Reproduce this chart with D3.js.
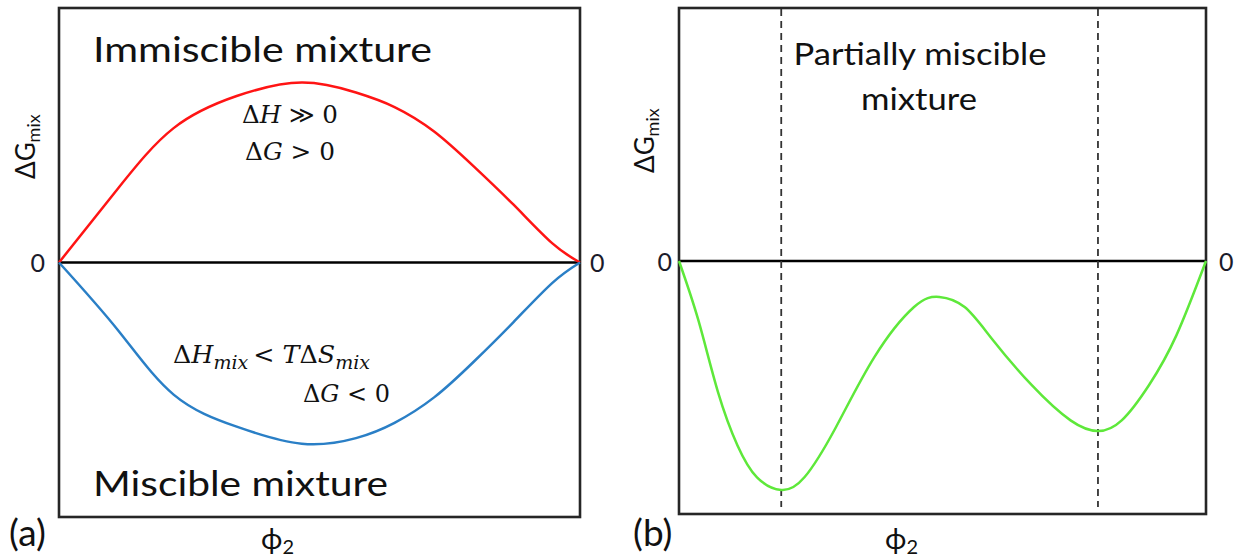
<!DOCTYPE html>
<html>
<head>
<meta charset="utf-8">
<script src="https://cdn.jsdelivr.net/npm/d3@7"></script>
<style>
  body { margin: 0; background: #fff; }
  svg { display: block; }
  .sans { font-family: Lato, "Open Sans", "Noto Sans", sans-serif; fill: #111; }
  .math { font-family: "DejaVu Serif", "Liberation Serif", serif; fill: #111; }
</style>
</head>
<body>
<svg id="chart" width="1234" height="558"></svg>
<script>
// Free energy of mixing ΔGmix (arbitrary units) against volume fraction φ2.
// (a) immiscible (ΔG > 0) and miscible (ΔG < 0) mixtures
const phiImmiscible = [0, 0.114, 0.22, 0.341, 0.466, 0.57, 0.644, 0.72, 0.796, 0.872, 0.947, 1];
const gImmiscible   = [0, 0.293, 0.528, 0.654, 0.707, 0.668, 0.611, 0.515, 0.378, 0.228, 0.075, 0];
const phiMiscible   = [0, 0.114, 0.22, 0.341, 0.466, 0.57, 0.644, 0.72, 0.796, 0.872, 0.947, 1];
const gMiscible     = [0, -0.268, -0.519, -0.645, -0.712, -0.69, -0.63, -0.53, -0.39, -0.235, -0.08, 0];
// (b) partially miscible mixture with two minima
const phiPartial = [0, 0.037, 0.074, 0.111, 0.148, 0.194, 0.238, 0.297, 0.371, 0.446, 0.494, 0.542, 0.594, 0.669, 0.743, 0.795, 0.84, 0.892, 0.944, 1];
const gPartial   = [0, -0.236, -0.518, -0.729, -0.855, -0.905, -0.855, -0.66, -0.379, -0.182, -0.142, -0.182, -0.308, -0.49, -0.63, -0.672, -0.63, -0.49, -0.293, 0];
// compositions of the two minima (binodal points)
const binodalPhi = [0.194, 0.795];
const zeroTick = [0];
const gDomain = [-1, 1];

const svg = d3.select("#chart");

function panel(opts) {
  const x = d3.scaleLinear().domain([0, 1]).range([opts.left, opts.right]);
  const y = d3.scaleLinear().domain(gDomain).range([opts.bottom, opts.top]);
  const g = svg.append("g");

  // zero labels on both sides
  const axL = g.append("g").attr("transform", `translate(${opts.left},0)`)
    .call(d3.axisLeft(y).tickValues(zeroTick).tickSize(0).tickPadding(opts.padL).tickFormat(d3.format("d")));
  const axR = g.append("g").attr("transform", `translate(${opts.right},0)`)
    .call(d3.axisRight(y).tickValues(zeroTick).tickSize(0).tickPadding(opts.padR).tickFormat(d3.format("d")));
  [axL, axR].forEach(a => {
    a.select(".domain").remove();
    a.attr("font-size", 25).attr("font-family", 'Lato, "Open Sans", sans-serif');
    a.selectAll("text").attr("fill", "#1b1b2a").attr("dy", "0.36em");
  });

  // zero line
  g.append("line")
    .attr("x1", x(0)).attr("x2", x(1)).attr("y1", y(0)).attr("y2", y(0))
    .attr("stroke", "#000").attr("stroke-width", 2.6);

  // frame
  g.append("rect")
    .attr("x", opts.left).attr("y", opts.top)
    .attr("width", opts.right - opts.left).attr("height", opts.bottom - opts.top)
    .attr("fill", "none").attr("stroke", "#262626").attr("stroke-width", 2.6);

  // axis titles
  const yl = g.append("text").attr("class", "sans")
    .attr("transform", `translate(${opts.yLabelX},${opts.yLabelY}) rotate(-90)`);
  yl.append("tspan").attr("font-size", 26).text("ΔG");
  yl.append("tspan").attr("font-size", 18).attr("dy", 5).text("mix");

  const xl = g.append("text").attr("class", "sans").attr("x", opts.xLabelX).attr("y", 549);
  xl.append("tspan").attr("font-size", 29).text("ϕ");
  xl.append("tspan").attr("font-size", 20).attr("dy", 5).text("2");

  g.append("text").attr("class", "sans").attr("x", opts.tagX).attr("y", 546)
    .attr("font-size", 37).text(opts.tag);

  return { x, y, g };
}

const line = (x, y) => d3.line().x(d => x(d[0])).y(d => y(d[1])).curve(d3.curveNatural);

// ---------- panel (a) ----------
const A = panel({ left: 59, right: 580, top: 8, bottom: 517, padL: 14, padR: 10,
  yLabelX: 35, yLabelY: 179, xLabelX: 261, tagX: 9, tag: "(a)" });

A.g.append("path").datum(d3.zip(phiImmiscible, gImmiscible))
  .attr("d", line(A.x, A.y)).attr("fill", "none").attr("stroke", "#ff1414").attr("stroke-width", 2.5);
A.g.append("path").datum(d3.zip(phiMiscible, gMiscible))
  .attr("d", line(A.x, A.y)).attr("fill", "none").attr("stroke", "#2a7fc6").attr("stroke-width", 2.5);

A.g.append("text").attr("class", "sans").attr("x", 93).attr("y", 62).attr("font-size", 35)
  .attr("textLength", 339).attr("lengthAdjust", "spacingAndGlyphs").text("Immiscible mixture");
A.g.append("text").attr("class", "sans").attr("x", 93).attr("y", 496).attr("font-size", 35)
  .attr("textLength", 295).attr("lengthAdjust", "spacingAndGlyphs").text("Miscible mixture");

function mathText(g, xPos, yPos, len, parts) {
  const t = g.append("text").attr("class", "math").attr("x", xPos).attr("y", yPos)
    .attr("font-size", 24).attr("textLength", len).attr("lengthAdjust", "spacingAndGlyphs");
  parts.forEach(p => {
    const s = t.append("tspan").text(p.t);
    if (p.i) s.attr("font-style", "italic");
    if (p.sub) s.attr("font-size", 18).attr("dy", p.sub);
    else if (p.back) s.attr("dy", p.back);
  });
  return t;
}
mathText(A.g, 242, 123, 96, [{ t: "Δ" }, { t: "H", i: 1 }, { t: " ≫ 0" }]);
mathText(A.g, 245, 160, 90, [{ t: "Δ" }, { t: "G", i: 1 }, { t: " > 0" }]);
mathText(A.g, 173, 363, 197, [{ t: "Δ" }, { t: "H", i: 1 }, { t: "mix", i: 1, sub: 6 },
  { t: "\u2009< ", back: -6 }, { t: "T", i: 1 }, { t: "Δ" }, { t: "S", i: 1 }, { t: "mix", i: 1, sub: 6 }]);
mathText(A.g, 303, 402, 87, [{ t: "Δ" }, { t: "G", i: 1 }, { t: " < 0" }]);

// ---------- panel (b) ----------
const B = panel({ left: 679, right: 1206, top: 8, bottom: 514, padL: 7, padR: 13,
  yLabelX: 654, yLabelY: 173, xLabelX: 885, tagX: 633, tag: "(b)" });

B.g.selectAll("line.binodal").data(binodalPhi).enter().append("line").attr("class", "binodal")
  .attr("x1", d => B.x(d)).attr("x2", d => B.x(d))
  .attr("y1", 9).attr("y2", 507)
  .attr("stroke", "#333").attr("stroke-width", 1.8).attr("stroke-dasharray", "7,5");

B.g.append("path").datum(d3.zip(phiPartial, gPartial))
  .attr("d", line(B.x, B.y)).attr("fill", "none").attr("stroke", "#5ee83a").attr("stroke-width", 2.5);

B.g.append("text").attr("class", "sans").attr("x", 920).attr("y", 65).attr("font-size", 30)
  .attr("text-anchor", "middle").attr("textLength", 253).attr("lengthAdjust", "spacingAndGlyphs")
  .text("Partially miscible");
B.g.append("text").attr("class", "sans").attr("x", 919).attr("y", 110).attr("font-size", 30)
  .attr("text-anchor", "middle").attr("textLength", 116).attr("lengthAdjust", "spacingAndGlyphs")
  .text("mixture");
</script>
</body>
</html>
